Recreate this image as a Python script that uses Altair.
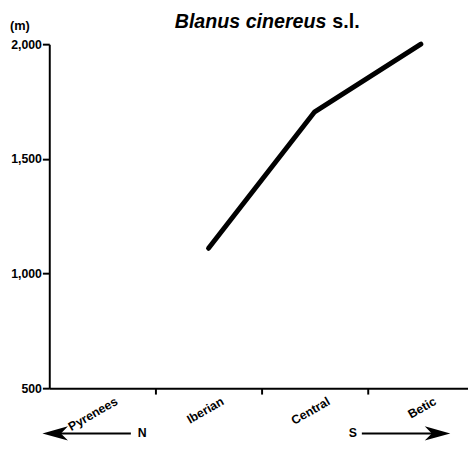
import json
import altair as alt
import pandas as pd

regions = ["Pyrenees", "Iberian", "Central", "Betic"]
elevation = [None, 1110, 1705, 2000]
y_ticks = [500, 1000, 1500, 2000]

pos = [i + 0.5 for i in range(len(regions))]
df = pd.DataFrame({"region": regions, "pos": pos, "elev": elevation}).dropna()

W, H = 426, 350
FONT = "Liberation Sans"

x_scale = alt.Scale(domain=[0, 3.944], nice=False, zero=False)
y_scale = alt.Scale(domain=[500, 2000], nice=False, zero=False)

label_expr = (
    "datum.value % 1 === 0.5 ? " + json.dumps(regions) + "[floor(datum.value)] : ''"
)

x_axis = alt.Axis(
    values=[0.5, 1, 1.5, 2, 2.5, 3, 3.5],
    labelExpr=label_expr,
    title=None,
    grid=False,
    domainColor="black",
    domainWidth=2,
    tickColor="black",
    tickWidth=2,
    tickSize=6,
    tickOpacity={"condition": {"test": "datum.value % 1 === 0", "value": 1}, "value": 0},
    labelAngle=-30,
    labelAlign="right",
    labelBaseline="middle",
    labelPadding=6,
    labelOffset=14,
    labelFont=FONT,
    labelFontWeight="bold",
    labelFontSize=12.5,
    labelColor="black",
)
y_axis = alt.Axis(
    values=y_ticks,
    format=",d",
    title=None,
    grid=False,
    domainColor="black",
    domainWidth=2,
    tickColor="black",
    tickWidth=2,
    tickSize=7,
    labelPadding=1,
    labelFont=FONT,
    labelFontWeight="bold",
    labelFontSize=12.5,
    labelColor="black",
)

line = alt.Chart(df).mark_line(color="black", strokeWidth=5, strokeCap="round", strokeJoin="round").encode(
    x=alt.X("pos:Q", scale=x_scale, axis=x_axis),
    y=alt.Y("elev:Q", scale=y_scale, axis=y_axis),
)

base = alt.Chart(pd.DataFrame({"a": [0]}))

title1 = base.mark_text(text="Blanus cinereus", font=FONT, fontSize=20, fontWeight="bold",
                        fontStyle="italic", align="right", baseline="alphabetic", color="black").encode(
    x=alt.value(282), y=alt.value(-16))
title2 = base.mark_text(text="s.l.", font=FONT, fontSize=20, fontWeight="bold",
                        align="left", baseline="alphabetic", color="black").encode(
    x=alt.value(288), y=alt.value(-16))
unit = base.mark_text(text="(m)", font=FONT, fontSize=13, fontWeight="bold",
                      align="left", baseline="alphabetic", color="black").encode(
    x=alt.value(-40), y=alt.value(-14))

AY = 396
left_line = base.mark_rule(color="black", strokeWidth=2).encode(
    x=alt.value(2), x2=alt.value(83), y=alt.value(AY))
right_line = base.mark_rule(color="black", strokeWidth=2).encode(
    x=alt.value(318), x2=alt.value(400), y=alt.value(AY))
left_head = base.mark_point(shape="M -1 0 L 1 -0.55 L 0.45 0 L 1 0.55 Z", filled=True,
                            color="black", opacity=1, size=676).encode(
    x=alt.value(6), y=alt.value(AY))
right_head = base.mark_point(shape="M 1 0 L -1 -0.55 L -0.45 0 L -1 0.55 Z", filled=True,
                             color="black", opacity=1, size=676).encode(
    x=alt.value(395), y=alt.value(AY))
n_text = base.mark_text(text="N", font=FONT, fontSize=12.5, fontWeight="bold",
                        align="left", baseline="middle", color="black").encode(
    x=alt.value(90), y=alt.value(AY))
s_text = base.mark_text(text="S", font=FONT, fontSize=12.5, fontWeight="bold",
                        align="right", baseline="middle", color="black").encode(
    x=alt.value(313), y=alt.value(AY))

chart = alt.layer(
    line, title1, title2, unit, left_line, right_line, left_head, right_head, n_text, s_text
).properties(
    width=W, height=H,
    background="white",
    autosize=alt.AutoSizeParams(type="none"),
    padding={"left": 42, "top": 33, "right": 0, "bottom": 53},
).configure_view(stroke=None)

chart.save("out.html", embed_options={"renderer": "svg", "actions": False})
